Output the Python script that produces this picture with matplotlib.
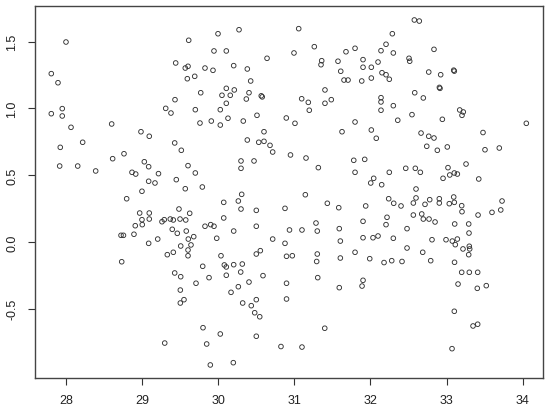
import matplotlib
matplotlib.use("Agg")
import matplotlib.pyplot as plt

x_vals = [
 28.000, 27.807, 27.895, 27.807, 27.951, 27.951, 28.066, 28.600, 28.985,
 29.612, 29.997, 30.273, 29.944, 30.106, 30.641, 29.441, 29.567, 29.603, 29.826,
 29.931, 30.203, 30.382, 29.594, 29.691, 30.426, 29.770, 30.106, 30.211, 30.049,
 30.158, 30.404, 30.369, 30.565, 30.578, 29.432, 30.106, 29.310, 29.379, 29.699,
 30.027, 30.509, 30.128, 30.894, 29.760, 29.909, 30.027, 30.329, 30.601,
 31.057, 32.576, 32.641, 32.287, 32.204, 31.262, 30.995, 31.678, 31.797, 32.138,
 32.300, 31.359, 31.350, 31.573, 31.902, 31.902, 32.011, 32.099, 32.506, 32.515,
 31.609, 32.151, 32.204, 32.247, 31.652, 31.705, 31.885, 32.011, 31.402, 31.096,
 31.183, 31.196, 31.402, 31.485, 32.138, 32.138, 32.138, 32.300, 32.581, 31.008,
 31.797, 32.358, 32.545, 31.626, 32.011,
 32.834, 32.765, 32.922, 33.093, 33.101, 32.905, 32.913, 32.694, 33.172, 33.219,
 33.202, 32.944, 34.047, 32.664, 33.478,
 29.094, 28.219, 27.925, 27.917, 28.154, 28.390, 28.613, 28.762, 29.029, 29.086,
 28.867, 28.916, 29.215, 29.086, 29.169, 28.998, 28.797, 28.968, 29.094, 28.998,
 29.094, 28.910, 29.002, 28.723, 28.755, 28.893, 29.086, 29.205, 28.732,
 30.382, 30.532, 30.601, 30.680, 30.715, 30.949, 29.428, 29.515, 30.299, 30.299,
 30.470, 29.603, 29.699, 29.449, 29.567, 29.791, 30.308, 30.264, 30.072, 30.299,
 30.500, 30.877, 29.484, 29.625, 29.261, 29.291, 29.370, 29.410, 29.498, 29.573,
 30.072, 29.396, 29.462, 29.580, 29.826, 29.901, 29.944, 30.203, 30.500, 30.936,
 29.678, 29.607, 29.642, 29.980, 30.715, 30.877, 29.507, 29.331, 29.410, 29.603,
 29.603, 30.036, 30.500, 30.553, 30.897,
 32.076, 31.153, 31.315, 31.780, 31.924, 31.797, 32.042, 32.003, 32.147, 32.247,
 32.463, 31.144, 31.433, 31.583, 31.937, 32.239, 32.305, 32.401, 32.217, 32.204,
 31.902, 31.284, 31.301, 31.100, 31.590, 32.480, 31.604, 31.902, 32.033, 32.099,
 32.300, 32.480, 30.973, 31.301, 31.293, 31.604, 31.797, 31.990, 32.178, 32.279,
 32.414,
 32.765, 32.834, 32.739, 32.878, 33.009, 33.504, 33.692, 32.589, 32.655, 33.018,
 32.953, 33.041, 33.101, 33.141, 33.255, 33.422, 32.598, 32.598, 32.563, 32.716,
 32.778, 32.904, 32.904, 33.035, 33.093, 33.101, 33.198, 33.202, 33.728, 33.711,
 33.596, 33.413, 32.563, 32.673, 32.694, 32.769, 32.848, 33.106, 33.290, 33.294,
 32.808, 32.992, 33.075, 33.141, 33.114, 33.215, 33.298, 33.303, 33.290, 32.686,
 32.791, 33.104,
 29.796, 30.080, 30.106, 30.203, 30.316, 29.428, 29.507, 29.879, 30.106, 30.295,
 30.588, 29.708, 30.404, 30.264, 30.168, 30.897, 29.502, 29.550, 29.502, 30.321,
 30.500, 30.434, 30.479, 30.545, 30.897, 29.800, 30.027, 30.500, 29.297, 29.848,
 30.824, 29.896, 30.198,
 31.307, 31.590, 31.902, 31.889, 31.399, 31.100,
 33.198, 33.298, 33.408, 33.150, 33.403, 33.521, 33.101, 33.347, 33.408, 33.071,
]

y_vals = [
 1.498, 1.261, 1.193, 0.961, 0.999, 0.944, 0.859, 0.884, 0.826,
 1.511, 1.560, 1.590, 1.431, 1.431, 1.376, 1.341, 1.303, 1.316, 1.303,
 1.286, 1.321, 1.296, 1.223, 1.241, 1.206, 1.118, 1.151, 1.139, 1.099,
 1.099, 1.118, 1.071, 1.095, 1.087, 1.066, 1.039, 1.001, 0.966, 0.991,
 0.991, 0.949, 0.927, 0.929, 0.891, 0.906, 0.876, 0.906, 0.826,
 1.598, 1.663, 1.655, 1.560, 1.481, 1.463, 1.416, 1.425, 1.451, 1.433,
 1.416, 1.358, 1.328, 1.354, 1.366, 1.309, 1.309, 1.348, 1.376, 1.354,
 1.279, 1.268, 1.253, 1.219, 1.213, 1.213, 1.206, 1.228, 1.139, 1.073,
 1.046, 0.987, 1.039, 1.066, 1.081, 1.049, 0.987, 1.021, 1.118, 0.889,
 0.899, 0.912, 0.954, 0.826, 0.839,
 1.443, 1.273, 1.253, 1.287, 1.280, 1.158, 1.151, 1.079, 0.989, 0.974,
 0.949, 0.919, 0.889, 0.816, 0.820,
 0.792, 0.747, 0.709, 0.569, 0.569, 0.532, 0.624, 0.661, 0.601, 0.564,
 0.522, 0.509, 0.512, 0.455, 0.442, 0.380, 0.324, 0.217, 0.217, 0.167,
 0.172, 0.122, 0.130, 0.050, 0.050, 0.058, -0.010, 0.022, -0.148,
 0.764, 0.747, 0.754, 0.724, 0.674, 0.652, 0.742, 0.687, 0.607, 0.552,
 0.607, 0.572, 0.517, 0.467, 0.399, 0.412, 0.357, 0.307, 0.297, 0.247,
 0.237, 0.252, 0.247, 0.215, 0.152, 0.167, 0.172, 0.165, 0.172, 0.165,
 0.180, 0.095, 0.065, 0.082, 0.118, 0.130, 0.118, 0.082, 0.118, 0.090,
 0.040, 0.022, -0.022, 0.028, 0.022, -0.010, -0.030, -0.095, -0.077, -0.060,
 -0.103, -0.103, -0.090, -0.065, -0.107,
 0.777, 0.629, 0.557, 0.612, 0.619, 0.522, 0.477, 0.442, 0.429, 0.522,
 0.552, 0.354, 0.290, 0.257, 0.270, 0.324, 0.290, 0.270, 0.185, 0.130,
 0.155, 0.142, 0.082, 0.090, 0.100, 0.100, 0.007, 0.032, 0.032, 0.045,
 0.028, -0.045, -0.103, -0.090, -0.146, -0.120, -0.077, -0.125, -0.154, -0.140,
 -0.146,
 0.792, 0.779, 0.717, 0.687, 0.712, 0.691, 0.704, 0.552, 0.522, 0.557,
 0.477, 0.502, 0.517, 0.509, 0.584, 0.472, 0.397, 0.330, 0.292, 0.282,
 0.317, 0.324, 0.292, 0.287, 0.337, 0.297, 0.272, 0.227, 0.307, 0.240,
 0.222, 0.202, 0.202, 0.210, 0.172, 0.172, 0.150, 0.135, 0.135, 0.067,
 0.017, 0.017, 0.007, 0.022, -0.020, -0.052, -0.032, -0.052, -0.095, -0.077,
 -0.140, -0.152,
 -0.182, -0.172, -0.187, -0.170, -0.165, -0.232, -0.260, -0.267, -0.249, -0.225,
 -0.252, -0.309, -0.300, -0.335, -0.377, -0.309, -0.360, -0.432, -0.457, -0.457,
 -0.432, -0.477, -0.530, -0.560, -0.427, -0.642, -0.689, -0.706, -0.757, -0.764,
 -0.783, -0.921, -0.904,
 -0.267, -0.342, -0.287, -0.330, -0.646, -0.787,
 -0.227, -0.227, -0.227, -0.315, -0.347, -0.327, -0.519, -0.629, -0.616, -0.799,
]

x_ticks = [28, 29, 30, 31, 32, 33, 34]
y_ticks = [-0.5, 0.0, 0.5, 1.0, 1.5]
y_tick_labels = ["-0.5", "0.0", "0.5", "1.0", "1.5"]

plt.rcParams['font.family'] = ['Liberation Sans', 'DejaVu Sans']

fig = plt.figure(figsize=(5.5, 4.14), dpi=100)
ax = fig.add_axes([35/550, 1 - 379.3/414, (543.3 - 35)/550, (379.3 - 6.7)/414])

ax.scatter(x_vals, y_vals, s=11, facecolors='none', edgecolors='#333333', linewidths=0.65)

ax.set_xlim(27.593, 34.270)
ax.set_ylim(-1.021, 1.770)
ax.set_xticks(x_ticks)
ax.set_xticklabels([str(t) for t in x_ticks])
ax.set_yticks(y_ticks)
ax.set_yticklabels(y_tick_labels, rotation=90, va='center')

ax.tick_params(axis='both', direction='out', length=5, width=0.8, colors='#333333',
               labelsize=9, labelcolor='#222222')
ax.tick_params(axis='x', pad=6)
ax.tick_params(axis='y', pad=7)
for sp in ax.spines.values():
    sp.set_linewidth(1.0)
    sp.set_color('#444444')

fig.savefig("out.png", dpi=100)
